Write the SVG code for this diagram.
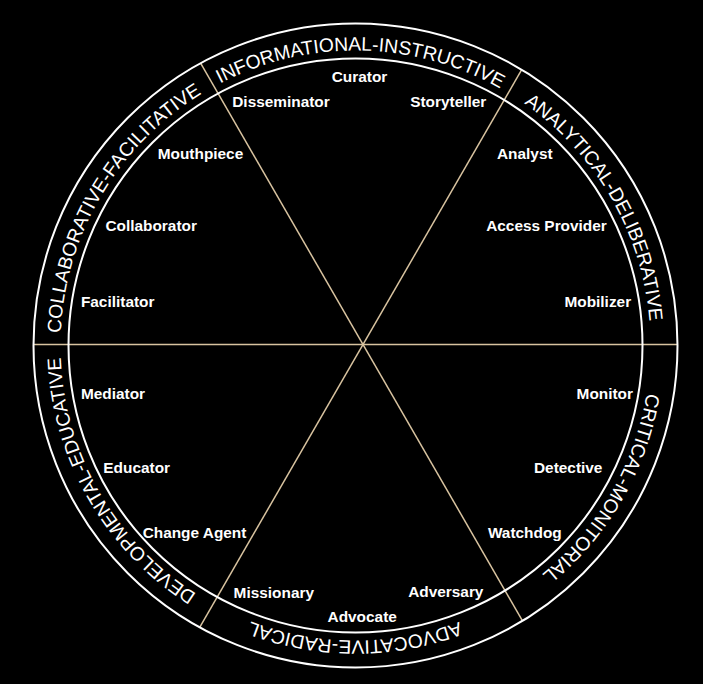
<svg xmlns="http://www.w3.org/2000/svg" xmlns:xlink="http://www.w3.org/1999/xlink" width="703" height="684" viewBox="0 0 703 684">
  <style>
    .ring { fill: none; stroke: #ffffff; stroke-width: 2; }
    .spoke { stroke: #d8c3a0; stroke-width: 1.5; fill: none; }
    .band { font-family: "Liberation Sans", Arial, sans-serif; font-size: 19.3px; fill: #ffffff; }
    .role { font-family: "Liberation Sans", Arial, sans-serif; font-size: 15.4px; font-weight: bold; fill: #ffffff; text-anchor: middle; }
  </style>
  <defs>
    <path id="bandPath" d="M 60.5 345.5 A 295 295 0 1 1 650.5 345.5 A 295 295 0 1 1 60.5 345.5"/>
  </defs>
  <rect x="0" y="0" width="703" height="684" fill="#000000"/>

  <g id="connectors">
    <line class="spoke" x1="33.5" y1="344.5" x2="677.5" y2="344.5"/>
    <line class="spoke" x1="200.6" y1="63.2" x2="522.5" y2="620.8"/>
    <line class="spoke" x1="521.7" y1="69.7" x2="199.7" y2="627.3"/>
  </g>

  <g id="circles">
    <circle class="ring" cx="355.5" cy="345.5" r="322"/>
    <circle class="ring" cx="355.5" cy="345.5" r="287"/>
  </g>

  <g id="band-informational">
    <text class="band" text-anchor="middle"><textPath xlink:href="#bandPath" href="#bandPath" startOffset="468.5">INFORMATIONAL-INSTRUCTIVE</textPath></text>
  </g>
  <g id="band-analytical">
    <text class="band" text-anchor="middle"><textPath xlink:href="#bandPath" href="#bandPath" startOffset="772.3">ANALYTICAL-DELIBERATIVE</textPath></text>
  </g>
  <g id="band-critical">
    <text class="band" text-anchor="middle"><textPath xlink:href="#bandPath" href="#bandPath" startOffset="1081.2">CRITICAL-MONITORIAL</textPath></text>
  </g>
  <g id="band-advocative">
    <text class="band" text-anchor="middle"><textPath xlink:href="#bandPath" href="#bandPath" startOffset="1390.2">ADVOCATIVE-RADICAL</textPath></text>
  </g>
  <g id="band-developmental">
    <text class="band" text-anchor="middle"><textPath xlink:href="#bandPath" href="#bandPath" startOffset="1699.1">DEVELOPMENTAL-EDUCATIVE</textPath></text>
  </g>
  <g id="band-collaborative">
    <text class="band" text-anchor="middle"><textPath xlink:href="#bandPath" href="#bandPath" startOffset="157">COLLABORATIVE-FACILITATIVE</textPath></text>
  </g>

  <g id="curator"><text class="role" x="359.5" y="82">Curator</text></g>
  <g id="disseminator"><text class="role" x="281" y="107">Disseminator</text></g>
  <g id="storyteller"><text class="role" x="448.3" y="107">Storyteller</text></g>
  <g id="mouthpiece"><text class="role" x="200.5" y="159">Mouthpiece</text></g>
  <g id="collaborator"><text class="role" x="151.2" y="230.7">Collaborator</text></g>
  <g id="facilitator"><text class="role" x="117.7" y="306.7">Facilitator</text></g>
  <g id="analyst"><text class="role" x="524.8" y="159.3">Analyst</text></g>
  <g id="access-provider"><text class="role" x="546.5" y="230.7">Access Provider</text></g>
  <g id="mobilizer"><text class="role" x="597.8" y="306.7">Mobilizer</text></g>
  <g id="mediator"><text class="role" x="113" y="399">Mediator</text></g>
  <g id="educator"><text class="role" x="136.7" y="473.3">Educator</text></g>
  <g id="change-agent"><text class="role" x="194.5" y="538.3">Change Agent</text></g>
  <g id="monitor"><text class="role" x="604.8" y="399">Monitor</text></g>
  <g id="detective"><text class="role" x="568.2" y="473.3">Detective</text></g>
  <g id="watchdog"><text class="role" x="524.8" y="538.3">Watchdog</text></g>
  <g id="missionary"><text class="role" x="273.8" y="598.3">Missionary</text></g>
  <g id="advocate"><text class="role" x="362.2" y="622">Advocate</text></g>
  <g id="adversary"><text class="role" x="445.8" y="597.3">Adversary</text></g>
</svg>
